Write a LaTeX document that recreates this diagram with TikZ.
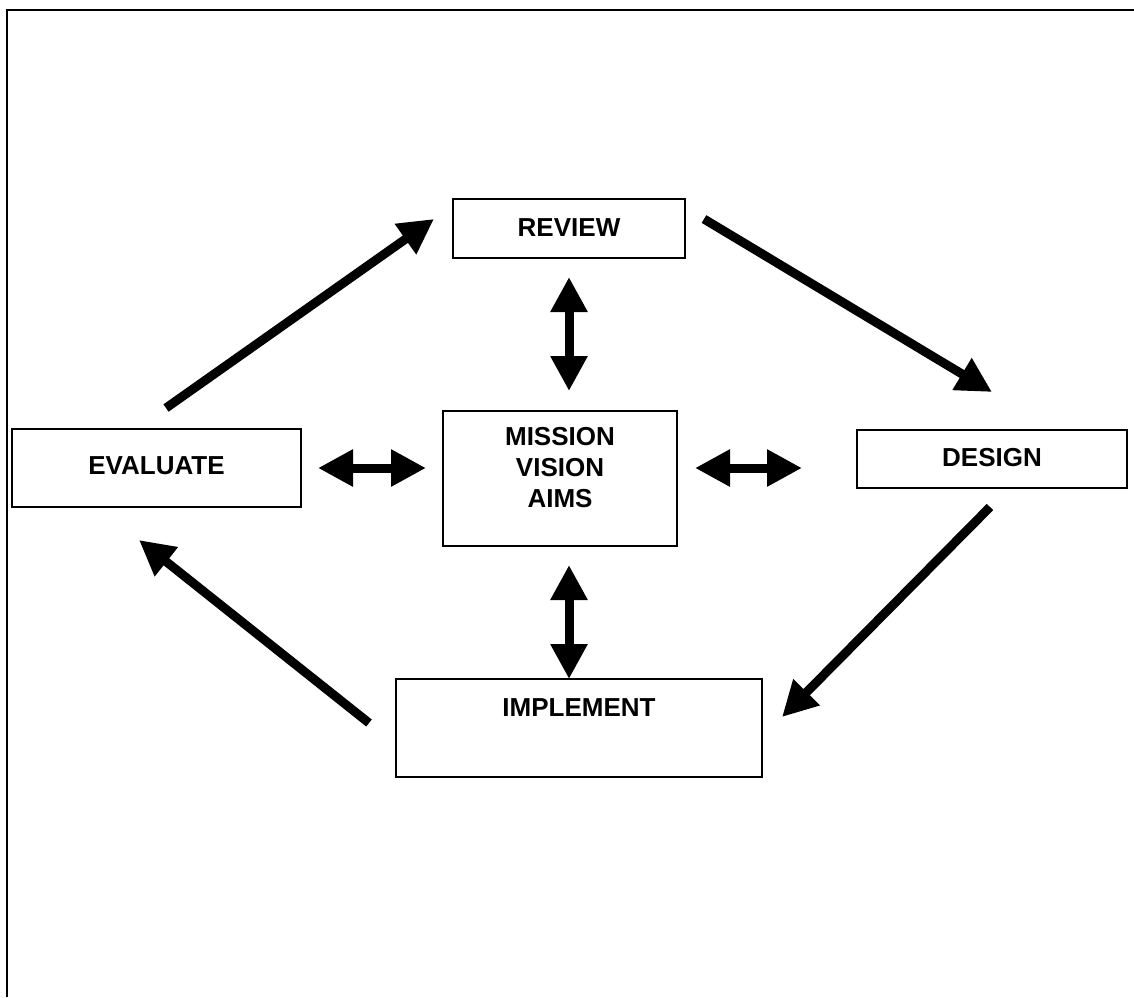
\documentclass[tikz,border=0pt]{standalone}
\usepackage{fontspec}
\setmainfont{Liberation Sans}
\usetikzlibrary{arrows.meta}
\begin{document}
\begin{tikzpicture}[x=1pt,y=-1pt,
  box/.style={draw=black,line width=1.4pt,rectangle,inner sep=0pt},
  lbl/.style={font=\bfseries\fontsize{26}{31}\selectfont,inner sep=0pt,anchor=base,align=center},
  flow/.style={line width=9pt,-{Triangle[length=35pt,width=35pt]}},
  both/.style={line width=9pt,{Triangle[length=35pt,width=35pt]}-{Triangle[length=35pt,width=35pt]}}]
\useasboundingbox (0,0) rectangle (1134,997);
% outer frame
\draw[line width=2.2pt,line join=miter] (7,997) -- (7,10.3) -- (1134,10.3);
% boxes
\node[box,minimum width=232pt,minimum height=59pt] (review) at (569,228.5) {};
\node[box,minimum width=234pt,minimum height=135pt] (mission) at (560,478.5) {};
\node[box,minimum width=289pt,minimum height=78pt] (evaluate) at (156.5,468) {};
\node[box,minimum width=270pt,minimum height=58pt] (design) at (992,459) {};
\node[box,minimum width=366pt,minimum height=98pt] (implement) at (579,728) {};
% labels
\node[lbl] (reviewtxt) at (569,236) {REVIEW};
\node[lbl] (evaluatetxt) at (156.5,474) {EVALUATE};
\node[lbl] (designtxt) at (992,466) {DESIGN};
\node[lbl] (implementtxt) at (579,716) {IMPLEMENT};
\node[lbl,anchor=north] (missiontxt) at (560,427) {MISSION\\VISION\\AIMS};
% cycle arrows
\coordinate (e1) at (166,408);  \coordinate (r1) at (434,219);
\coordinate (r2) at (704,219);  \coordinate (d1) at (992,392);
\coordinate (d2) at (990,507);  \coordinate (i1) at (782,717);
\coordinate (i2) at (369,723);  \coordinate (e2) at (139,540);
\draw[flow] (e1) -- (r1);
\draw[flow] (r2) -- (d1);
\draw[flow] (d2) -- (i1);
\draw[flow] (i2) -- (e2);
% links to the centre
\coordinate (rm1) at (569,277); \coordinate (rm2) at (569,391);
\coordinate (mi1) at (569,565); \coordinate (mi2) at (569,679);
\coordinate (em1) at (318,468); \coordinate (em2) at (426,468);
\coordinate (md1) at (695,468); \coordinate (md2) at (802,468);
\draw[both] (rm1) -- (rm2);
\draw[both] (mi1) -- (mi2);
\draw[both] (em1) -- (em2);
\draw[both] (md1) -- (md2);
\end{tikzpicture}
\end{document}
